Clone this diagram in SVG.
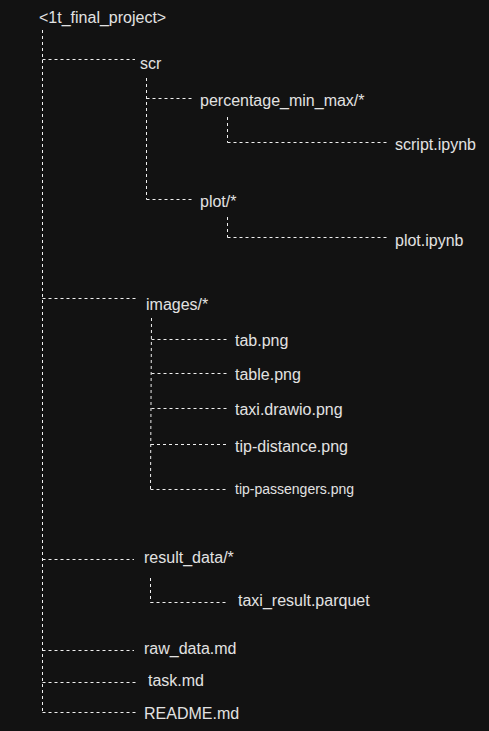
<svg xmlns="http://www.w3.org/2000/svg" width="489" height="731" viewBox="0 0 489 731">
<style>
.t{font-family:"Liberation Sans",Arial,sans-serif;font-size:16px;fill:#e2e2e2}
.s{font-size:14px}
.c line{stroke:#f0f0f0;stroke-width:1;stroke-dasharray:3 3;fill:none}
</style>
<rect width="489" height="731" fill="#121212"/>
<g class="c" id="connectors">
<line x1="42.5" y1="30" x2="42.5" y2="713"/>
<line x1="42.5" y1="59.5" x2="135" y2="59.5"/>
<line x1="146.5" y1="78" x2="146.5" y2="199.5"/>
<line x1="146.5" y1="98.5" x2="194" y2="98.5"/>
<line x1="146.5" y1="199.5" x2="194" y2="199.5"/>
<line x1="227.5" y1="117" x2="227.5" y2="142.5"/>
<line x1="227.5" y1="142.5" x2="387" y2="142.5"/>
<line x1="227.5" y1="217" x2="227.5" y2="237.5"/>
<line x1="227.5" y1="237.5" x2="387" y2="237.5"/>
<line x1="42.5" y1="298.5" x2="137" y2="298.5"/>
<line x1="151.5" y1="318" x2="150.5" y2="489.5"/>
<line x1="151.5" y1="339.5" x2="227" y2="339.5"/>
<line x1="151.5" y1="373.5" x2="227" y2="373.5"/>
<line x1="151.5" y1="408.5" x2="227" y2="408.5"/>
<line x1="151" y1="444.5" x2="227" y2="444.5"/>
<line x1="150.5" y1="489.5" x2="228" y2="489.5"/>
<line x1="42.5" y1="559.5" x2="134" y2="559.5"/>
<line x1="150.5" y1="578" x2="150.5" y2="602.5"/>
<line x1="150.5" y1="602.5" x2="227" y2="602.5"/>
<line x1="42.5" y1="650.5" x2="134" y2="650.5"/>
<line x1="42.5" y1="682.5" x2="137" y2="682.5"/>
<line x1="42.5" y1="712.5" x2="137" y2="712.5"/>
</g>
<g id="root"><text class="t" x="39" y="23">&lt;1t_final_project&gt;</text></g>
<g id="scr"><text class="t" x="140" y="69">scr</text></g>
<g id="percentage"><text class="t" x="200" y="106">percentage_min_max/*</text></g>
<g id="script"><text class="t" x="395" y="150">script.ipynb</text></g>
<g id="plot"><text class="t" x="200" y="207">plot/*</text></g>
<g id="plotnb"><text class="t" x="395" y="246">plot.ipynb</text></g>
<g id="images"><text class="t" x="146" y="310">images/*</text></g>
<g id="tab"><text class="t" x="235" y="346">tab.png</text></g>
<g id="table"><text class="t" x="235" y="380">table.png</text></g>
<g id="taxi"><text class="t" x="235" y="415">taxi.drawio.png</text></g>
<g id="tipdist"><text class="t" x="235" y="452">tip-distance.png</text></g>
<g id="tippass"><text class="t s" x="235" y="494">tip-passengers.png</text></g>
<g id="result"><text class="t" x="144" y="563">result_data/*</text></g>
<g id="parquet"><text class="t" x="238" y="606">taxi_result.parquet</text></g>
<g id="raw"><text class="t" x="144" y="654">raw_data.md</text></g>
<g id="task"><text class="t" x="148" y="686">task.md</text></g>
<g id="readme"><text class="t" x="144" y="719">README.md</text></g>
</svg>
